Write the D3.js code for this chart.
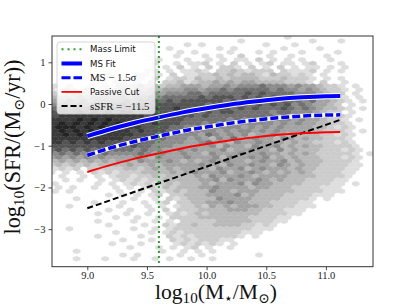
<!DOCTYPE html>
<html>
<head>
<meta charset="utf-8">
<script src="https://cdn.jsdelivr.net/npm/d3@7"></script>
<style>
  body { margin: 0; background: #fff; }
  svg { display: block; }
</style>
</head>
<body>
<svg id="chart" width="415" height="305"></svg>
<script>
// ====================================
// Données
// ====================================
const massTicks = [9.0, 9.5, 10.0, 10.5, 11.0];
const sfrTicks = [-3, -2, -1, 0, 1];
const massLimit = 9.6;

// courbes de la séquence principale
const fitMass    = [9.0, 9.2, 9.4, 9.6, 9.8, 10.0, 10.2, 10.4, 10.6, 10.8, 11.0, 11.12];
const msFit      = [-0.77, -0.60, -0.45, -0.32, -0.20, -0.10, -0.01, 0.06, 0.12, 0.16, 0.185, 0.19];
const msLow      = [-1.23, -1.05, -0.90, -0.77, -0.65, -0.55, -0.46, -0.39, -0.33, -0.29, -0.265, -0.26];
const passiveCut = [-1.63, -1.46, -1.31, -1.18, -1.06, -0.96, -0.87, -0.80, -0.74, -0.70, -0.675, -0.67];
const ssfrMass   = [9.0, 11.12];
const ssfrLine   = [-2.5, -0.38];

// grille hexbin : une chaîne par rangée, niveau de gris 1-9, "." = vide
// (les "|" séparent les colonnes par paquets de 10)
const hexMass0 = 8.70, hexDm = 0.06;
const hexSfr0 = 1.60, hexDs = 0.09;
const hexRows = [
  "..........|..........|..........|...1......|......",
  "..........|..........|......1...|......1...|1.....",
  "..........|.........1|.1........|1...1.....|......",
  "..........|......1...|...1.1....|..1....1..|......",
  "..........|........1.|1....1...1|.1...1....|1.....",
  "..........|.......1..|.1.1..2...|1..1....1.|......",
  "..........|.....1...1|..1.1.11.2|.1.1.1...1|......",
  "..........|....1..1.1|12.1.2.1.1|2.11.12...|1.....",
  "..........|......1.2.|1.2.221.2.|1.2.1.11.1|.1....",
  "..........|...11.1.11|21.2232122|2.21112.1.|1.....",
  "........1.|..11.1.2.1|1223232332|1322121.1.|......",
  "......1...|.11.2.1221|3223233332|2232221.1.|1.....",
  ".......1.1|1.1.2.2231|2334343443|3332221.2.|.1....",
  "1.1..1.1.2|2232323344|4344545556|5554544322|1.1...",
  "1.21.2.122|3233434445|5455656666|6565545432|21.1..",
  "2.2322.333|3444545556|6566666767|6666555432|2.1...",
  "3333434444|5455656666|6767776767|6766555433|21.1..",
  "4454545555|6566767677|7777676777|7676656443|21.1..",
  "5565656666|7677777777|7767777767|6767565443|2.1...",
  "6767677777|7787877877|7777767676|6676565433|21.1..",
  "7777878787|8877877777|7676776666|6566555432|2.1...",
  "7888888888|8887877777|6766666666|6565554432|21....",
  "8888989898|8888877776|6666656565|5555454432|21.1..",
  "8989898989|8887877766|6565655555|5454544332|21....",
  "8999898988|8887777665|5555555454|5454444332|121...",
  "8989898898|8787776656|5554545545|4544443322|21.1..",
  "8898989888|8877766555|5465454534|4543433322|121...",
  "8888888888|7777665554|5435464454|4354343322|21....",
  "8878787877|7776655554|4564435445|4443433222|121...",
  "7777777777|6766555444|4453544354|4534343322|221...",
  "6767676766|6656554454|5444534454|4353433322|2121..",
  "5656565655|5565454454|4354445445|4434343222|221.1.",
  "4545454544|4454354445|4445354454|5343433322|2121..",
  "3434343434|4354445434|3454544345|4453433322|221...",
  "2323232333|3433434444|4544354454|4354343322|2211..",
  "1212.22222|3323434344|4435445345|4443433222|211...",
  "1.1.1.2121|2223333434|5444534454|3434343222|211...",
  ".1..1.1.12|2122323333|4354445434|4443333222|21....",
  "..1.1..1.1|2121223333|3445354445|4343332222|11....",
  "1.....1.1.|1212123233|3434445354|4333322221|1.1...",
  ".1.1..1..1|.1.1213233|3445444434|4333222211|1.....",
  "1.1......1|..1.212323|3354434443|3333222211|1.....",
  "........1.|1.1.12.223|3344445343|3332222111|......",
  "...1......|.1..1.2123|3335444433|3322221.1.|......",
  "......1...|1..1.12.22|3344454433|3222211...|......",
  "..1......1|...1.1.122|3243434443|3222111...|......",
  "........1.|.1..1.2.22|2333344433|222111....|......",
  "......1...|1..1..1212|3233333332|22211.....|......",
  ".........1|..1..1.222|2333333322|2211......|......",
  "......1...|.1..1.1.22|2223333322|211.......|......",
  "........1.|...1..2122|3223333221|21........|......",
  "..1.......|.1..1.1222|2222222211|1.........|......",
  ".........1|....1.1212|2222222111|..........|......",
  "......1...|..1...2121|2222221.1.|..........|......",
  "..........|1...1..212|122211....|..........|......",
  "........1.|..1....121|2121.1....|..........|......",
  "..........|.1...1.1.1|2.1..1....|..........|......",
  "...1......|.....1..1.|1.1.......|..........|......",
  "..........|1.1.....1.|.1.......1|..........|......",
  "...1...1..|.1..1.1..1|..1.......|..........|......",
  "..........|..........|..........|..........|......",
  "..........|..........|..........|..........|......"
];
const greyLevels = [null, 222, 204, 185, 163, 140, 112, 84, 58, 36];

// légende
const legendItems = [
  { label: "Mass Limit", kind: "limit" },
  { label: "MS Fit", kind: "fit" },
  { label: "MS − 1.5σ", kind: "low" },
  { label: "Passive Cut", kind: "passive" },
  { label: "sSFR = −11.5", kind: "ssfr" }
];

// ====================================
// Mise en page
// ====================================
const svg = d3.select("#chart");
const plot = { left: 52, right: 373, top: 36, bottom: 266.7 };

const x = d3.scaleLinear().domain([8.704, 11.395]).range([plot.left, plot.right]);
const y = d3.scaleLinear().domain([-3.9, 1.63]).range([plot.bottom, plot.top]);

svg.append("defs").append("clipPath")
    .attr("id", "plot-clip")
  .append("rect")
    .attr("x", plot.left)
    .attr("y", plot.top)
    .attr("width", plot.right - plot.left)
    .attr("height", plot.bottom - plot.top);

const plotGroup = svg.append("g").attr("clip-path", "url(#plot-clip)");

// ====================================
// Hexbin
// ====================================
const hexCells = [];
hexRows.forEach((row, r) => {
    row.replace(/\|/g, "").split("").forEach((ch, c) => {
        if (ch === ".") return;
        hexCells.push({
            mass: hexMass0 + hexDm * c + (r % 2 ? hexDm / 2 : 0),
            sfr: hexSfr0 - hexDs * r,
            level: +ch
        });
    });
});

const hw = (x(hexMass0 + hexDm) - x(hexMass0)) / 2;
const pitch = y(hexSfr0 - hexDs) - y(hexSfr0);
const hexPath = "M" + [
    [0, -2 * pitch / 3], [hw, -pitch / 3], [hw, pitch / 3],
    [0, 2 * pitch / 3], [-hw, pitch / 3], [-hw, -pitch / 3]
].map(p => p.join(",")).join("L") + "Z";

const grey = level => d3.rgb(greyLevels[level], greyLevels[level], greyLevels[level]);

plotGroup.append("g")
    .selectAll("path")
    .data(hexCells)
    .join("path")
    .attr("transform", d => `translate(${x(d.mass)},${y(d.sfr)})`)
    .attr("d", hexPath)
    .attr("fill", d => grey(d.level))
    .attr("stroke", d => grey(d.level))
    .attr("stroke-width", 0.4);

// ====================================
// Courbes
// ====================================
const line = d3.line()
    .x(d => x(d[0]))
    .y(d => y(d[1]))
    .curve(d3.curveMonotoneX);

const pairs = vals => fitMass.map((m, i) => [m, vals[i]]);

// sSFR = -11.5
plotGroup.append("path")
    .attr("d", line(ssfrMass.map((m, i) => [m, ssfrLine[i]])))
    .attr("fill", "none")
    .attr("stroke", "#000")
    .attr("stroke-width", 2)
    .attr("stroke-dasharray", "6,3");

// coupure passive
plotGroup.append("path")
    .attr("d", line(pairs(passiveCut)))
    .attr("fill", "none")
    .attr("stroke", "#ff0000")
    .attr("stroke-width", 2);

// MS - 1.5 sigma (fond blanc + tirets bleus)
plotGroup.append("path")
    .attr("d", line(pairs(msLow)))
    .attr("fill", "none")
    .attr("stroke", "#fff")
    .attr("stroke-width", 4.5);
plotGroup.append("path")
    .attr("d", line(pairs(msLow)))
    .attr("fill", "none")
    .attr("stroke", "#0000ff")
    .attr("stroke-width", 3.5)
    .attr("stroke-dasharray", "8,3");

// ajustement MS (contour blanc)
plotGroup.append("path")
    .attr("d", line(pairs(msFit)))
    .attr("fill", "none")
    .attr("stroke", "#fff")
    .attr("stroke-width", 6);
plotGroup.append("path")
    .attr("d", line(pairs(msFit)))
    .attr("fill", "none")
    .attr("stroke", "#0000ff")
    .attr("stroke-width", 4);

// limite en masse
plotGroup.append("line")
    .attr("x1", x(massLimit)).attr("x2", x(massLimit))
    .attr("y1", plot.top).attr("y2", plot.bottom)
    .attr("stroke", "#2ca02c")
    .attr("stroke-width", 2)
    .attr("stroke-dasharray", "2,3");

// ====================================
// Axes
// ====================================
const serif = "'Liberation Serif', 'DejaVu Serif', serif";

const xAxis = svg.append("g")
    .attr("transform", `translate(0,${plot.bottom})`)
    .call(d3.axisBottom(x).tickValues(massTicks).tickFormat(d3.format(".1f")).tickSize(3.5).tickPadding(1));
const yAxis = svg.append("g")
    .attr("transform", `translate(${plot.left},0)`)
    .call(d3.axisLeft(y).tickValues(sfrTicks).tickFormat(d3.format("d")).tickSize(3.5).tickPadding(3));

[xAxis, yAxis].forEach(ax => {
    ax.select(".domain").remove();
    ax.selectAll(".tick line").attr("stroke", "#333").attr("stroke-width", 0.9);
    ax.selectAll(".tick text")
        .attr("fill", "#222")
        .style("font-family", serif)
        .style("font-size", "10.5px");
});

svg.append("rect")
    .attr("x", plot.left)
    .attr("y", plot.top)
    .attr("width", plot.right - plot.left)
    .attr("height", plot.bottom - plot.top)
    .attr("fill", "none")
    .attr("stroke", "#333")
    .attr("stroke-width", 1);

// titres des axes, mis à l'échelle pour la largeur voulue
function fitLabel(text, transform, width) {
    const k = width / text.node().getComputedTextLength();
    text.attr("transform", `${transform} scale(${k})`);
}

function labelPart(text, str, sub, size, family) {
    const t = text.append("tspan").text(str);
    if (sub) t.attr("dy", sub).style("font-size", size);
    if (family) t.style("font-family", family);
    return t;
}

const xLabel = svg.append("text")
    .attr("text-anchor", "middle")
    .style("font-family", serif)
    .style("font-size", "20px")
    .attr("fill", "#111");
labelPart(xLabel, "log");
labelPart(xLabel, "10", 4, "14px");
labelPart(xLabel, "(M", -4);
labelPart(xLabel, "⋆", 4, "13px", "'DejaVu Sans', sans-serif");
labelPart(xLabel, "/M", -4);
labelPart(xLabel, "⊙", 4, "13px");
labelPart(xLabel, ")", -4);
fitLabel(xLabel, "translate(216,298.5)", 122);

const yLabel = svg.append("text")
    .attr("text-anchor", "middle")
    .style("font-family", serif)
    .style("font-size", "20px")
    .attr("fill", "#111");
labelPart(yLabel, "log");
labelPart(yLabel, "10", 4, "14px");
labelPart(yLabel, "(SFR/(M", -4);
labelPart(yLabel, "⊙", 4, "13px");
labelPart(yLabel, "/yr))", -4);
fitLabel(yLabel, "translate(20,147) rotate(-90)", 175);

// ====================================
// Légende
// ====================================
const legend = svg.append("g").attr("transform", "translate(57,42)");
legend.append("rect")
    .attr("width", 98)
    .attr("height", 72)
    .attr("rx", 3)
    .attr("fill", "#fff")
    .attr("fill-opacity", 0.8)
    .attr("stroke", "#cccccc")
    .attr("stroke-width", 0.8);

const entry = legend.selectAll(".entry")
    .data(legendItems)
    .join("g")
    .attr("class", "entry")
    .attr("transform", (d, i) => `translate(0,${7.3 + i * 14.2})`);

entry.each(function(d) {
    const g = d3.select(this);
    const seg = g.append("line").attr("x1", 4.5).attr("x2", 25).attr("y1", 0).attr("y2", 0);
    if (d.kind === "limit") {
        seg.attr("stroke", "#2ca02c").attr("stroke-width", 2).attr("stroke-dasharray", "2,4");
    } else if (d.kind === "fit") {
        seg.attr("stroke", "#0000ff").attr("stroke-width", 4);
    } else if (d.kind === "low") {
        seg.attr("stroke", "#0000ff").attr("stroke-width", 3).attr("stroke-dasharray", "9,3");
    } else if (d.kind === "passive") {
        seg.attr("stroke", "#ff0000").attr("stroke-width", 1.8);
    } else {
        seg.attr("stroke", "#000").attr("stroke-width", 2).attr("stroke-dasharray", "6,3");
    }
    const isMath = d.kind === "low" || d.kind === "ssfr";
    g.append("text")
        .attr("x", 33)
        .attr("dy", "0.35em")
        .style("font-family", isMath ? serif : "'DejaVu Sans', sans-serif")
        .style("font-size", isMath ? "10.8px" : "8.6px")
        .attr("fill", "#111")
        .text(d.label);
});
</script>
</body>
</html>
